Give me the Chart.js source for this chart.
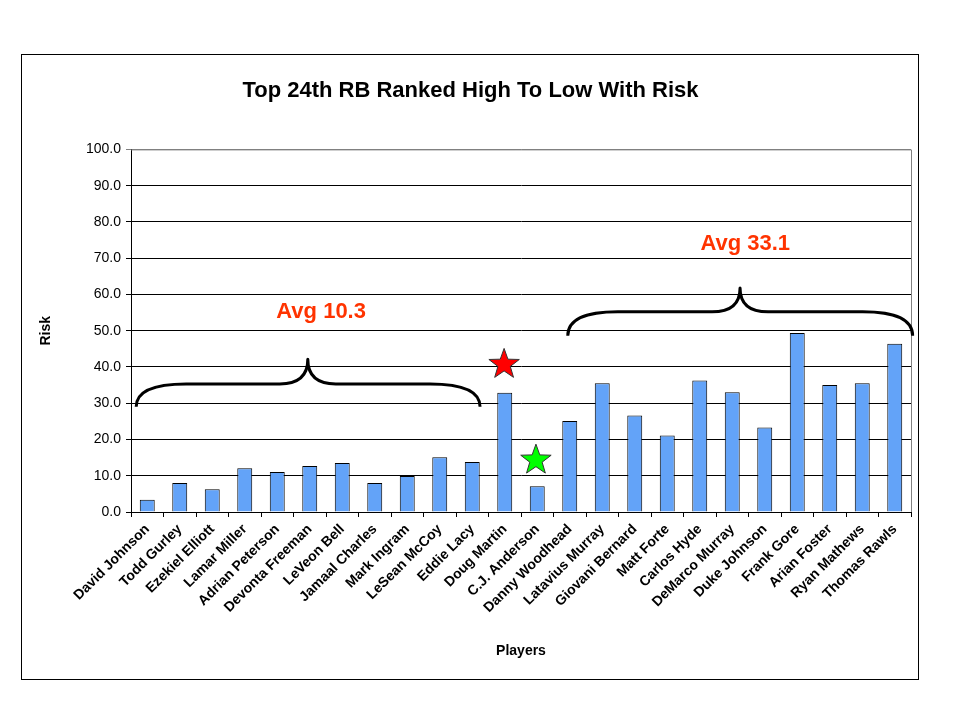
<!DOCTYPE html>
<html>
<head>
<meta charset="utf-8">
<script src="https://cdn.jsdelivr.net/npm/chart.js@4"></script>
<style>
  html, body { margin: 0; padding: 0; background: #fff; }
  #wrap { position: relative; width: 960px; height: 720px; }
  #frame { position: absolute; left: 21px; top: 54px; width: 898px; height: 626px; border: 1px solid #000; box-sizing: border-box; pointer-events: none; }
</style>
</head>
<body>
<div id="wrap">
  <canvas id="chart" width="960" height="720"></canvas>
  <div id="frame"></div>
</div>
<script>
// players, ranked high to low
const players = [
  'David Johnson', 'Todd Gurley', 'Ezekiel Elliott', 'Lamar Miller', 'Adrian Peterson',
  'Devonta Freeman', 'LeVeon Bell', 'Jamaal Charles', 'Mark Ingram', 'LeSean McCoy',
  'Eddie Lacy', 'Doug Martin', 'C.J. Anderson', 'Danny Woodhead', 'Latavius Murray',
  'Giovani Bernard', 'Matt Forte', 'Carlos Hyde', 'DeMarco Murray', 'Duke Johnson',
  'Frank Gore', 'Arian Foster', 'Ryan Mathews', 'Thomas Rawls'
];
const risk = [
  3.4, 8.0, 6.3, 12.1, 11.0,
  12.7, 13.5, 8.0, 9.9, 15.1,
  13.8, 32.9, 7.1, 25.1, 35.5,
  26.6, 21.1, 36.3, 33.0, 23.3,
  49.4, 35.0, 35.5, 46.4
];
const yTicks = [0, 10, 20, 30, 40, 50, 60, 70, 80, 90, 100];

// annotations, in category index / risk units
const braces = [
  { from: -0.34, to: 10.24, tip: 4.94, base: 29.0, level: 35.3, peak: 42.1 },
  { from: 12.94, to: 23.55, tip: 18.24, base: 48.6, level: 55.2, peak: 61.8 }
];
const avgLabels = [
  { text: 'Avg 10.3', at: 5.35, value: 55.2 },
  { text: 'Avg 33.1', at: 18.4, value: 74.0 }
];
const stars = [
  { at: 10.98, value: 40.7, color: '#ff0000' },
  { at: 11.96, value: 14.3, color: '#00ff00' }
];

const FONT = 'Arial, "Liberation Sans", sans-serif';

const annotations = {
  id: 'annotations',
  beforeDatasetsDraw(chart) {
    const { ctx, chartArea } = chart;
    ctx.save();
    ctx.strokeStyle = '#808080';
    ctx.lineWidth = 1;
    ctx.beginPath();
    ctx.moveTo(chartArea.left, chartArea.top + 0.5);
    ctx.lineTo(chartArea.right + 0.5, chartArea.top + 0.5);
    ctx.lineTo(chartArea.right + 0.5, chartArea.bottom);
    ctx.stroke();
    ctx.restore();
  },
  afterDatasetsDraw(chart) {
    const { ctx, scales } = chart;
    const x = scales.x, y = scales.y;
    ctx.save();

    // braces
    ctx.strokeStyle = '#000';
    ctx.lineWidth = 3;
    ctx.lineJoin = 'round';
    braces.forEach(b => {
      const xl = x.getPixelForValue(b.from), xr = x.getPixelForValue(b.to), xm = x.getPixelForValue(b.tip);
      const y0 = y.getPixelForValue(b.base), y1 = y.getPixelForValue(b.level), y2 = y.getPixelForValue(b.peak);
      const r = 50, r2 = 28;
      ctx.beginPath();
      ctx.moveTo(xl, y0);
      ctx.quadraticCurveTo(xl, y1, xl + r, y1);
      ctx.lineTo(xm - r2, y1);
      ctx.quadraticCurveTo(xm, y1, xm, y2);
      ctx.quadraticCurveTo(xm, y1, xm + r2, y1);
      ctx.lineTo(xr - r, y1);
      ctx.quadraticCurveTo(xr, y1, xr, y0);
      ctx.stroke();
    });

    // avg labels
    ctx.fillStyle = '#ff3300';
    ctx.font = 'bold 22px ' + FONT;
    ctx.textAlign = 'center';
    ctx.textBaseline = 'middle';
    avgLabels.forEach(a => {
      ctx.fillText(a.text, x.getPixelForValue(a.at), y.getPixelForValue(a.value));
    });

    // stars
    stars.forEach(s => {
      const cx = x.getPixelForValue(s.at), cy = y.getPixelForValue(s.value);
      const ro = 16, ri = 6.5;
      ctx.beginPath();
      for (let i = 0; i < 10; i++) {
        const ang = -Math.PI / 2 + i * Math.PI / 5;
        const rr = i % 2 === 0 ? ro : ri;
        const px = cx + rr * Math.cos(ang), py = cy + rr * Math.sin(ang);
        if (i === 0) ctx.moveTo(px, py); else ctx.lineTo(px, py);
      }
      ctx.closePath();
      ctx.fillStyle = s.color;
      ctx.fill();
      ctx.strokeStyle = '#333';
      ctx.lineWidth = 1;
      ctx.stroke();
    });
    ctx.restore();
  }
};

new Chart(document.getElementById('chart'), {
  type: 'bar',
  data: {
    labels: players,
    datasets: [{
      label: 'Risk',
      data: risk,
      backgroundColor: '#63a3f8',
      borderColor: '#000',
      borderWidth: 1,
      barPercentage: 0.46,
      categoryPercentage: 1
    }]
  },
  options: {
    responsive: false,
    animation: false,
    devicePixelRatio: 1,
    layout: { padding: { left: 30, right: 49, top: 54, bottom: 52 } },
    plugins: {
      legend: { display: false },
      tooltip: { enabled: false },
      title: {
        display: true,
        text: 'Top 24th RB Ranked High To Low With Risk',
        color: '#000',
        font: { family: FONT, size: 22, weight: 'bold' },
        padding: { top: 24, bottom: 45 }
      }
    },
    scales: {
      x: {
        offset: true,
        afterFit: s => { s.height = 156; },
        grid: { display: true, drawOnChartArea: false, offset: true, color: '#000', tickLength: 5 },
        border: { color: '#000', width: 1 },
        ticks: {
          color: '#000',
          autoSkip: false,
          minRotation: 45,
          maxRotation: 45,
          padding: 4,
          font: { family: FONT, size: 14, weight: 'bold' }
        },
        title: {
          display: true,
          text: 'Players',
          color: '#000',
          font: { family: FONT, size: 14, weight: 'bold' },
          padding: { top: 4, bottom: 8 }
        }
      },
      y: {
        min: 0,
        max: 100,
        afterFit: s => { s.width = 101; },
        afterBuildTicks: s => { s.ticks = yTicks.map(v => ({ value: v })); },
        grid: {
          color: ctx => (ctx.tick && ctx.tick.value === 100 ? '#808080' : '#000'),
          tickLength: 5
        },
        border: { color: '#000', width: 1 },
        ticks: {
          color: '#000',
          padding: 5,
          font: { family: FONT, size: 14 },
          callback: v => Number(v).toFixed(1)
        },
        title: {
          display: true,
          text: 'Risk',
          color: '#000',
          font: { family: FONT, size: 14, weight: 'bold' },
          padding: { top: 8, bottom: 4 }
        }
      }
    }
  },
  plugins: [annotations]
});
</script>
</body>
</html>
